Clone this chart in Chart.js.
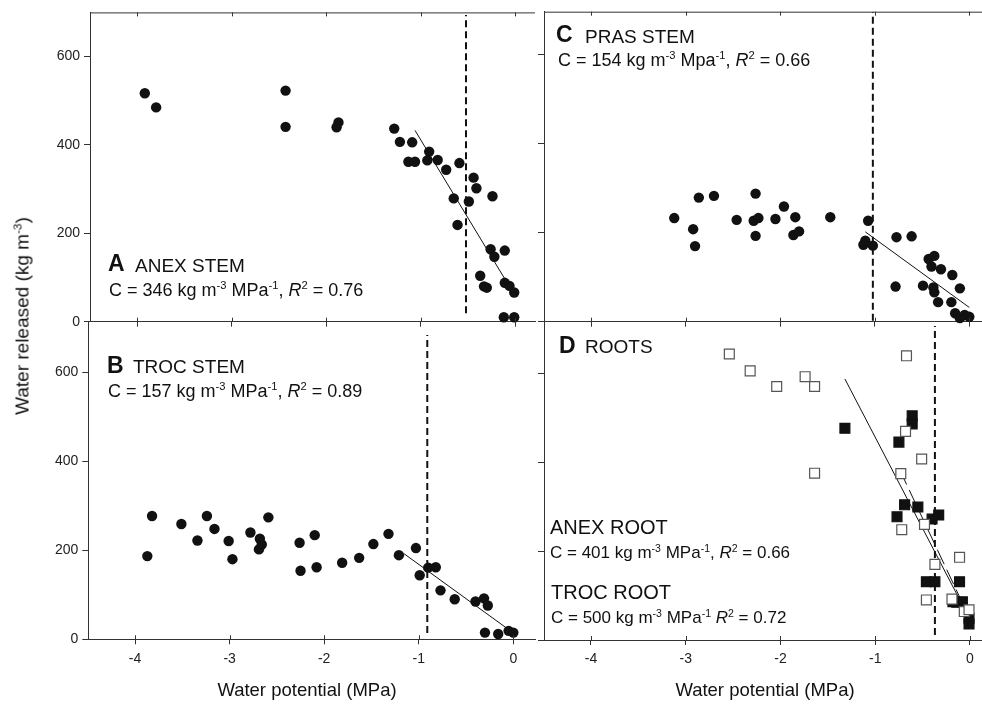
<!DOCTYPE html>
<html>
<head>
<meta charset="utf-8">
<script src="https://cdn.jsdelivr.net/npm/chart.js@4.4.1/dist/chart.umd.min.js"></script>
<style>
body{margin:0;background:#fff;width:982px;height:704px;position:relative;overflow:hidden;font-family:"Liberation Sans",Arial,sans-serif;color:#111}
canvas{position:absolute;left:0;top:0}
.t{position:absolute;white-space:nowrap;line-height:1}
.b{font-weight:bold;font-size:23px}
.n{font-size:19px}
.e{font-size:18px}
.r{font-size:20px}
.e2{font-size:17px}
sup{font-size:0.62em;vertical-align:0.6em;line-height:0}
i{font-style:italic}
.ax{font-size:18.5px}
</style>
</head>
<body>
<canvas id="cA" width="982" height="704"></canvas>
<canvas id="cB" width="982" height="704"></canvas>
<canvas id="cC" width="982" height="704"></canvas>
<canvas id="cD" width="982" height="704"></canvas>

<div class="t b" style="left:108px;top:252px">A</div>
<div class="t n" style="left:135px;top:255.5px">ANEX STEM</div>
<div class="t e" style="left:109px;top:280.7px">C = 346 kg m<sup>-3</sup> MPa<sup>-1</sup>, <i>R</i><sup>2</sup> = 0.76</div>

<div class="t b" style="left:107px;top:354px">B</div>
<div class="t n" style="left:133px;top:357px">TROC STEM</div>
<div class="t e" style="left:108px;top:382px">C = 157 kg m<sup>-3</sup> MPa<sup>-1</sup>, <i>R</i><sup>2</sup> = 0.89</div>

<div class="t b" style="left:556px;top:23px">C</div>
<div class="t n" style="left:585px;top:26.6px">PRAS STEM</div>
<div class="t e" style="left:558px;top:51.4px">C = 154 kg m<sup>-3</sup> Mpa<sup>-1</sup>, <i>R</i><sup>2</sup> = 0.66</div>

<div class="t b" style="left:559px;top:334px">D</div>
<div class="t n" style="left:585px;top:337px">ROOTS</div>
<div class="t r" style="left:550px;top:517px">ANEX ROOT</div>
<div class="t e2" style="left:550px;top:543.5px">C = 401 kg m<sup>-3</sup> MPa<sup>-1</sup>, <i>R</i><sup>2</sup> = 0.66</div>
<div class="t r" style="left:551px;top:582px">TROC ROOT</div>
<div class="t e2" style="left:551px;top:608.5px">C = 500 kg m<sup>-3</sup> MPa<sup>-1</sup> <i>R</i><sup>2</sup> = 0.72</div>

<div class="t ax" style="left:22px;top:316px;font-size:19px;transform:translate(-50%,-50%) rotate(-90deg)">Water released (kg m<sup>-3</sup>)</div>
<div class="t ax" style="left:307px;top:690px;transform:translate(-50%,-50%)">Water potential (MPa)</div>
<div class="t ax" style="left:765px;top:690px;transform:translate(-50%,-50%)">Water potential (MPa)</div>

<script>
// tick labels
const xTicks = [-4, -3, -2, -1, 0];
const yTicks = [0, 200, 400, 600];

// A - ANEX stem
const anexStemX = [-3.92, -3.80, -2.43, -2.43, -1.87, -1.89, -1.28, -1.22, -1.09, -1.13, -1.06, -0.91, -0.93, -0.82, -0.73, -0.59, -0.65, -0.61, -0.49, -0.44, -0.41, -0.24, -0.26, -0.22, -0.11, -0.37, -0.33, -0.30, -0.11, -0.06, -0.01, -0.12, -0.01];
const anexStemY = [517, 485, 523, 441, 451, 440, 437, 407, 406, 362, 362, 385, 365, 366, 344, 359, 279, 219, 272, 326, 302, 284, 164, 147, 161, 104, 80, 77, 88, 81, 66, 10, 10];
const anexStemFitX = [-1.06, -0.09];
const anexStemFitY = [433, 90];
const anexStemPsi = -0.52;

// B - TROC stem
const trocStemX = [-3.87, -3.82, -3.51, -3.34, -3.24, -3.16, -3.01, -2.97, -2.78, -2.68, -2.66, -2.69, -2.59, -2.26, -2.25, -2.10, -2.08, -1.81, -1.63, -1.48, -1.32, -1.21, -1.03, -0.99, -0.90, -0.82, -0.77, -0.62, -0.40, -0.31, -0.27, -0.30, -0.16, -0.05, 0.0];
const trocStemY = [187, 277, 259, 222, 277, 248, 221, 180, 240, 226, 213, 202, 274, 217, 154, 234, 162, 172, 183, 214, 237, 189, 205, 144, 161, 162, 110, 90, 85, 92, 76, 15, 12, 19, 15];
const trocStemFitX = [-1.16, -0.07];
const trocStemFitY = [193, 25];
const trocStemPsi = -0.91;

// C - PRAS stem
const prasStemX = [-3.12, -2.92, -2.90, -2.86, -2.70, -2.46, -2.26, -2.28, -2.23, -2.26, -2.05, -1.96, -1.84, -1.86, -1.80, -1.47, -1.07, -1.12, -1.10, -1.02, -0.77, -0.61, -0.78, -0.43, -0.37, -0.40, -0.30, -0.18, -0.49, -0.38, -0.37, -0.10, -0.33, -0.19, -0.15, -0.10, -0.05, 0.0];
const prasStemY = [233, 208, 170, 279, 283, 229, 288, 227, 233, 193, 231, 259, 235, 195, 203, 235, 227, 173, 182, 171, 190, 192, 79, 141, 148, 124, 118, 105, 81, 77, 66, 75, 44, 44, 19, 8, 15, 11];
const prasStemFitX = [-1.10, 0.0];
const prasStemFitY = [202, 32];
const prasStemPsi = -1.02;

// D - roots (open = ANEX, filled = TROC)
const anexRootX = [-2.54, -2.32, -2.04, -1.74, -1.64, -1.64, -0.67, -0.68, -0.51, -0.73, -0.72, -0.48, -0.37, -0.11, -0.46, -0.19, -0.06, -0.01];
const anexRootY = [643, 605, 570, 592, 570, 375, 639, 469, 407, 374, 248, 260, 170, 186, 90, 92, 64, 68];
const trocRootX = [-1.32, -0.75, -0.61, -0.61, -0.77, -0.69, -0.55, -0.40, -0.33, -0.46, -0.37, -0.11, -0.18, -0.14, -0.08, -0.01, -0.01];
const trocRootY = [476, 445, 504, 486, 277, 304, 299, 272, 281, 131, 131, 131, 86, 85, 86, 49, 36];
const anexRootFitX = [-1.32, -0.09];
const anexRootFitY = [587, 83];
const trocRootFitX = [-0.74, -0.07];
const trocRootFitY = [382, 79];
const rootPsi = -0.37;

const INK = '#111';
const pts = (xs, ys) => xs.map((x, i) => ({ x, y: ys[i] }));

function dots(xs, ys) {
  return { data: pts(xs, ys), pointStyle: 'circle', pointRadius: 5.2, backgroundColor: INK, borderWidth: 0, clip: false, order: 1 };
}
function squares(xs, ys, fill, edge) {
  return { data: pts(xs, ys), pointStyle: 'rect', pointRadius: 7, backgroundColor: fill, borderColor: edge, borderWidth: 1.2, clip: false, order: 1 };
}
function fit(xs, ys, dash) {
  return { data: pts(xs, ys), showLine: true, pointRadius: 0, borderColor: INK, borderWidth: 1, borderDash: dash || [], order: 2 };
}
function psiLine(x, y0, y1) {
  return { data: [{ x, y: y0 }, { x, y: y1 }], showLine: true, pointRadius: 0, borderColor: INK, borderWidth: 2, borderDash: [7, 4], order: 3 };
}

// top border and inner tick marks
const frame = {
  id: 'frame',
  afterDraw(chart, args, opts) {
    const { ctx, chartArea: a, scales } = chart;
    ctx.save();
    ctx.strokeStyle = '#333';
    ctx.lineWidth = 1;
    ctx.beginPath();
    xTicks.forEach(v => {
      const px = Math.round(scales.x.getPixelForValue(v)) + 0.5;
      ctx.moveTo(px, a.bottom); ctx.lineTo(px, a.bottom - 4);
      if (opts.top) { ctx.moveTo(px, a.top); ctx.lineTo(px, a.top + 4); }
    });
    if (opts.top) { ctx.moveTo(a.left, a.top + 0.5); ctx.lineTo(a.right, a.top + 0.5); }
    ctx.stroke();
    ctx.restore();
  }
};

function makeChart(p, datasets) {
  const [L, T, R, B] = p.area;
  const W = 60, H = 40;
  const font = { family: '"Liberation Sans", Arial, sans-serif', size: 14 };
  return new Chart(document.getElementById(p.id), {
    type: 'scatter',
    data: { datasets },
    options: {
      responsive: false,
      animation: false,
      events: [],
      layout: { autoPadding: false, padding: { left: L - W, top: T, right: 982 - R, bottom: 704 - B - H } },
      plugins: { legend: { display: false }, tooltip: { enabled: false }, frame: { top: p.top } },
      scales: {
        x: {
          type: 'linear', min: p.x[0], max: p.x[1],
          afterFit: s => { s.height = H; },
          afterBuildTicks: s => { s.ticks = xTicks.map(v => ({ value: v })); },
          grid: { drawOnChartArea: false, tickLength: 5, color: '#333' },
          border: { color: '#333', width: 1 },
          ticks: { display: p.xLab, font, color: '#222', padding: 6, maxRotation: 0 }
        },
        y: {
          type: 'linear', min: p.y[0], max: p.y[1],
          afterFit: s => { s.width = W; },
          afterBuildTicks: s => { s.ticks = yTicks.map(v => ({ value: v })); },
          grid: { drawOnChartArea: false, tickLength: 6, color: '#333' },
          border: { color: '#333', width: 1 },
          ticks: { display: p.yLab, font, color: '#222', padding: 4 }
        }
      }
    },
    plugins: [frame]
  });
}

makeChart({ id: 'cA', area: [90, 10.5, 535, 321.7], x: [-4.5, 0.21], y: [0, 700], xLab: false, yLab: true, top: true }, [
  dots(anexStemX, anexStemY),
  fit(anexStemFitX, anexStemFitY),
  psiLine(anexStemPsi, 19, 694)
]);

makeChart({ id: 'cB', area: [88.3, 322, 535, 639.3], x: [-4.494, 0.229], y: [0, 713], xLab: true, yLab: true, top: false }, [
  dots(trocStemX, trocStemY),
  fit(trocStemFitX, trocStemFitY),
  psiLine(trocStemPsi, 14, 684)
]);

makeChart({ id: 'cC', area: [544, 11.7, 982, 321.7], x: [-4.497, 0.134], y: [0, 697], xLab: false, yLab: false, top: true }, [
  dots(prasStemX, prasStemY),
  fit(prasStemFitX, prasStemFitY),
  psiLine(prasStemPsi, 2, 697)
]);

makeChart({ id: 'cD', area: [544, 322, 982, 640], x: [-4.496, 0.127], y: [0, 715], xLab: true, yLab: false, top: false }, [
  squares(anexRootX, anexRootY, '#fff', '#555'),
  squares(trocRootX, trocRootY, INK, INK),
  fit(anexRootFitX, anexRootFitY),
  fit(trocRootFitX, trocRootFitY, [16, 6]),
  psiLine(rootPsi, 11, 706)
]);
</script>
</body>
</html>
